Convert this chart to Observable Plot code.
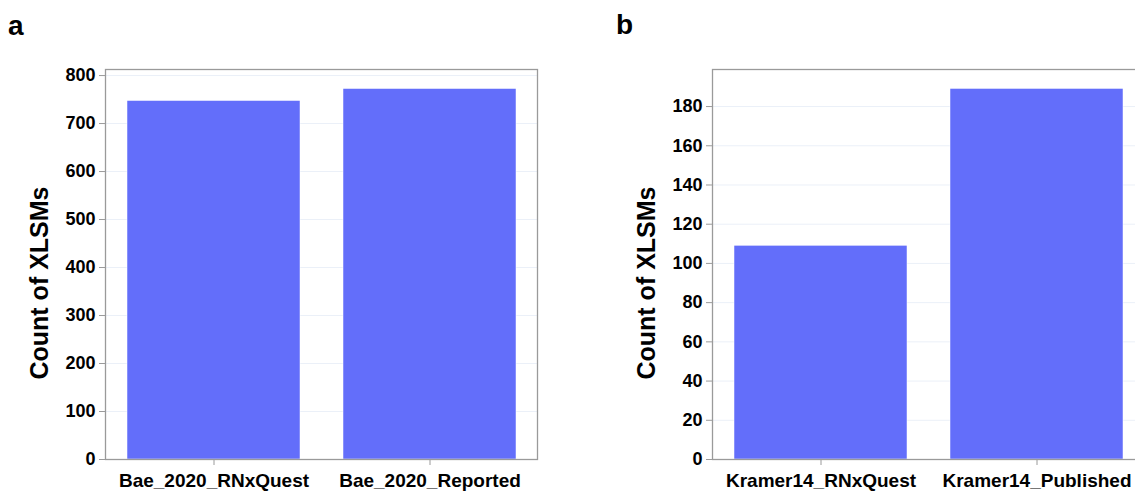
<!DOCTYPE html>
<html>
<head>
<meta charset="utf-8">
<script src="https://cdn.jsdelivr.net/npm/d3@7"></script>
<script src="https://cdn.jsdelivr.net/npm/@observablehq/plot@0.6"></script>
<style>
  html, body { margin: 0; padding: 0; background: #fff; }
  #wrap { position: relative; width: 1135px; height: 492px; overflow: hidden; font-family: "Liberation Sans", Arial, sans-serif; }
  .panel { position: absolute; top: 0; }
  .letter { position: absolute; font-weight: bold; font-size: 28px; line-height: 1; color: #000; }
  .ytitle { position: absolute; font-weight: bold; font-size: 25px; white-space: nowrap; color: #000;
            transform: translate(-50%, -50%) rotate(-90deg); }
</style>
</head>
<body>
<div id="wrap"></div>
<script>
// Panel a data
const catsA = ["Bae_2020_RNxQuest", "Bae_2020_Reported"];
const valsA = [747, 772];
const ticksA = [0, 100, 200, 300, 400, 500, 600, 700, 800];
const maxA = 812.6;

// Panel b data
const catsB = ["Kramer14_RNxQuest", "Kramer14_Published"];
const valsB = [109, 189];
const ticksB = [0, 20, 40, 60, 80, 100, 120, 140, 160, 180];
const maxB = 198.9;

const yTitle = "Count of XLSMs";
const barColor = "#636efa";

function panel(cats, vals, ticks, ymax) {
  const data = cats.map((c, i) => ({cat: c, v: vals[i]}));
  return Plot.plot({
    width: 560,
    height: 492,
    marginLeft: 105,
    marginRight: 23,
    marginTop: 69,
    marginBottom: 33,
    style: {fontFamily: "'Liberation Sans', Arial, sans-serif", fontWeight: "bold", fontSize: "18px", color: "#000", background: "transparent"},
    x: {domain: cats, paddingInner: 0.2, paddingOuter: 0.1, label: null},
    y: {domain: [0, ymax], label: null},
    marks: [
      Plot.ruleY(ticks.filter(t => t > 0), {stroke: "#ebf0f8", strokeWidth: 1}),
      Plot.barY(data, {x: "cat", y: "v", fill: barColor, stroke: "#ffffff", strokeWidth: 0.5}),
      Plot.frame({stroke: "#9a9a9a", strokeWidth: 1.3}),
      Plot.axisY({ticks: ticks, tickSize: 6, tickPadding: 4, stroke: "#9a9a9a", fill: "#000", label: null, fontSize: 18}),
      Plot.axisX({tickSize: 6, tickPadding: 8, stroke: "#9a9a9a", fill: "#000", label: null, fontSize: 19})
    ]
  });
}

const wrap = document.getElementById("wrap");
function place(el, left) {
  el.classList.add("panel");
  el.style.left = left + "px";
  wrap.appendChild(el);
}
place(panel(catsA, valsA, ticksA, maxA), 0);
place(panel(catsB, valsB, ticksB, maxB), 607);

function addText(cls, txt, left, top) {
  const d = document.createElement("div");
  d.className = cls;
  d.textContent = txt;
  d.style.left = left + "px";
  d.style.top = top + "px";
  wrap.appendChild(d);
}
addText("letter", "a", 8, 12);
addText("letter", "b", 616, 11);
addText("ytitle", yTitle, 39, 283);
addText("ytitle", yTitle, 646, 283);
</script>
</body>
</html>
